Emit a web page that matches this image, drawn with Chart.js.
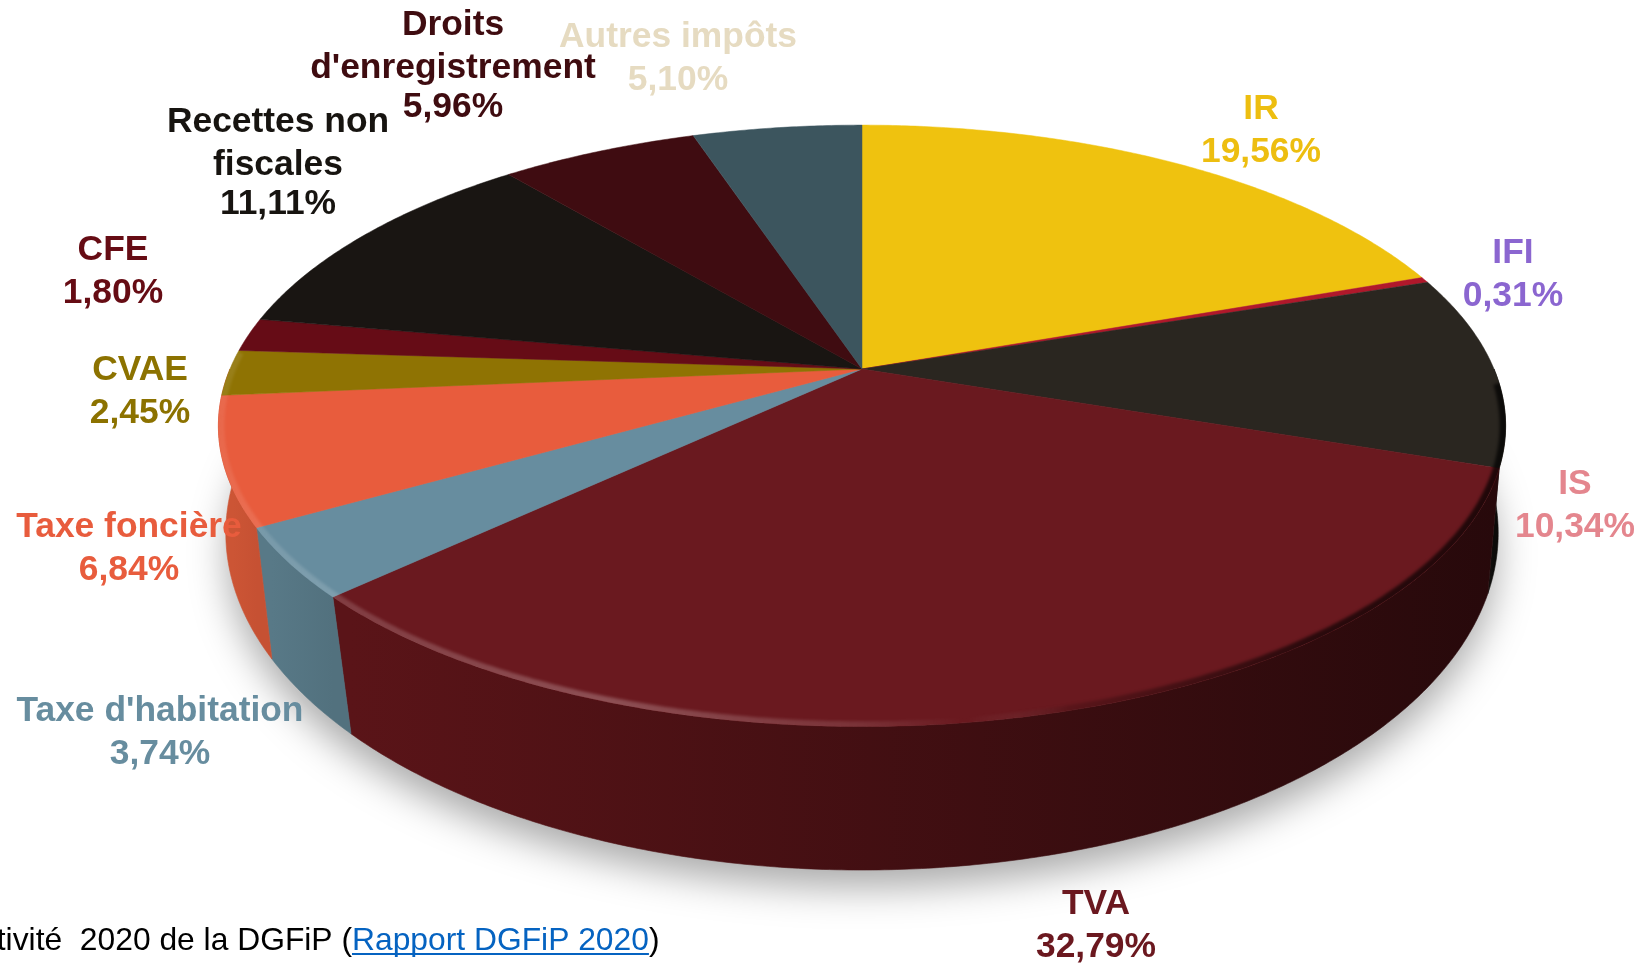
<!DOCTYPE html>
<html lang="fr">
<head>
<meta charset="utf-8">
<title>Recettes</title>
<script src="https://cdn.jsdelivr.net/npm/chart.js@4/dist/chart.umd.js"></script>
<style>
  html, body { margin: 0; background: #fff; overflow: hidden; }
  #pie { display: block; }
</style>
</head>
<body>
<canvas id="pie" width="1640" height="965"></canvas>
<script>
const categories = ['IR', 'IFI', 'IS', 'TVA', "Taxe d'habitation", 'Taxe foncière', 'CVAE', 'CFE',
    'Recettes non fiscales', "Droits d'enregistrement", 'Autres impôts'];
const shares = [19.56, 0.31, 10.34, 32.79, 3.74, 6.84, 2.45, 1.80, 11.11, 5.96, 5.10];

const sliceColors = ['#EFC20F', '#B0182B', '#2A2620', '#6A191F', '#678D9F', '#E85C3D', '#8F7303', '#660C16',
    '#191512', '#3F0C11', '#3C555E'];
const labelColors = ['#EDBE10', '#8B66D0', '#E4868E', '#6B181F', '#678D9F', '#E85C3D', '#8C7200', '#660C14',
    '#171410', '#3F0C10', '#E6DBC1'];
// left and right ends of the side wall shading
const wallColors = {
    2: ['#141210', '#0c0b09'],
    3: ['#5A1418', '#27090B'],
    4: ['#587987', '#52717E'],
    5: ['#CC5535', '#C65133']
};
const labelLines = [['IR'], ['IFI'], ['IS'], ['TVA'], ["Taxe d'habitation"], ['Taxe foncière'], ['CVAE'], ['CFE'],
    ['Recettes non', 'fiscales'], ['Droits', "d'enregistrement"], ['Autres impôts']];
// centre x and first line y for each label
const labelAnchors = [[1261, 109], [1513, 253], [1575, 484], [1096, 904], [160, 711], [129, 527], [140, 370],
    [113, 250], [278, 122], [453, 25], [678, 37]];
// y offset of each line below the first
const lineOffsets = [0, 43, 82];

// perspective planes of the disc: top face and underside
const CX = 862;
const topPlane = { a: 632, b: 290, p: -0.189, y0: 369 };
const basePlane = { a: 629, b: 329.4, p: -0.15, y0: 482.5 };

function project(plane, angle, r = 1) {
    const u = Math.cos(angle) * r;
    const v = Math.sin(angle) * r;
    const w = 1 + plane.p * v;
    return [CX + plane.a * u / w, plane.y0 + plane.b * v / w];
}

function traceArc(ctx, plane, from, to, r = 1, move = false) {
    const steps = Math.max(2, Math.ceil(Math.abs(to - from) * 120));
    for (let i = 0; i <= steps; i++) {
        const p = project(plane, from + (to - from) * i / steps, r);
        if (i === 0 && move) ctx.moveTo(p[0], p[1]);
        else ctx.lineTo(p[0], p[1]);
    }
}

// the ellipse itself sits off canvas, only its shadow lands on the page
function drawGroundShadow(ctx) {
    ctx.save();
    ctx.shadowColor = 'rgba(0,0,0,0.34)';
    ctx.shadowBlur = 38;
    ctx.shadowOffsetX = 3000;
    ctx.shadowOffsetY = 10;
    ctx.fillStyle = '#000';
    ctx.beginPath();
    ctx.ellipse(CX - 3000, 545, 634, 332, 0, 0, Math.PI * 2);
    ctx.fill();
    ctx.restore();
}

function drawWalls(ctx, arcs) {
    arcs.forEach((arc, i) => {
        if (!wallColors[i]) return;
        const from = Math.max(arc.startAngle, 0);
        // the foncière wall also covers the small turn up to the left extreme
        const to = i === 5 ? Math.PI : Math.min(arc.endAngle, Math.PI);
        if (to <= from) return;
        const left = project(basePlane, to)[0];
        const right = project(topPlane, from)[0];
        const grad = ctx.createLinearGradient(left, 0, right, 0);
        grad.addColorStop(0, wallColors[i][0]);
        grad.addColorStop(1, wallColors[i][1]);
        ctx.beginPath();
        traceArc(ctx, topPlane, from, to, 1, true);
        traceArc(ctx, basePlane, to, from);
        ctx.closePath();
        ctx.fillStyle = grad;
        ctx.strokeStyle = grad;
        ctx.lineWidth = 0.6;
        ctx.fill();
        ctx.stroke();
    });
}

function drawFaces(ctx, arcs) {
    arcs.forEach((arc, i) => {
        ctx.beginPath();
        ctx.moveTo(CX, topPlane.y0);
        traceArc(ctx, topPlane, arc.startAngle, arc.endAngle);
        ctx.closePath();
        ctx.fillStyle = sliceColors[i];
        ctx.strokeStyle = sliceColors[i];
        ctx.lineWidth = 0.5;
        ctx.fill();
        ctx.stroke();
    });
}

// soft bevel along the front rim, light on the left, dark on the right
function drawRim(ctx) {
    ctx.save();
    ctx.beginPath();
    traceArc(ctx, topPlane, 0, Math.PI * 2, 1, true);
    ctx.closePath();
    ctx.clip();
    const grad = ctx.createLinearGradient(218, 0, 1506, 0);
    grad.addColorStop(0, 'rgba(255,255,255,0.08)');
    grad.addColorStop(0.06, 'rgba(255,255,255,0.14)');
    grad.addColorStop(0.3, 'rgba(255,255,255,0.24)');
    grad.addColorStop(0.5, 'rgba(255,255,255,0.11)');
    grad.addColorStop(0.58, 'rgba(255,255,255,0)');
    grad.addColorStop(0.66, 'rgba(0,0,0,0.15)');
    grad.addColorStop(0.85, 'rgba(0,0,0,0.6)');
    grad.addColorStop(1, 'rgba(0,0,0,0.7)');
    ctx.filter = 'blur(1.4px)';
    ctx.strokeStyle = grad;
    ctx.lineWidth = 8;
    ctx.beginPath();
    traceArc(ctx, topPlane, 0.05, 3.2, 0.997, true);
    ctx.stroke();
    ctx.restore();
}

const pie3d = {
    id: 'pie3d',
    beforeDatasetsDraw(chart) {
        const ctx = chart.ctx;
        const arcs = chart.getDatasetMeta(0).data;
        drawGroundShadow(ctx);
        drawWalls(ctx, arcs);
        drawFaces(ctx, arcs);
        drawRim(ctx);
        return false;
    },
    afterDraw(chart) {
        const ctx = chart.ctx;
        ctx.save();
        ctx.textAlign = 'center';
        ctx.textBaseline = 'middle';
        ctx.font = 'bold 35.4px "Liberation Sans"';
        labelLines.forEach((lines, i) => {
            const [x, y] = labelAnchors[i];
            const text = lines.concat(shares[i].toFixed(2).replace('.', ',') + '%');
            ctx.fillStyle = labelColors[i];
            text.forEach((line, k) => ctx.fillText(line, x, y + lineOffsets[k]));
        });
        // source line, runs off the left edge
        ctx.font = '31.8px "Liberation Sans"';
        ctx.textBaseline = 'alphabetic';
        ctx.textAlign = 'right';
        ctx.fillStyle = '#000';
        ctx.fillText("activité  2020 de la DGFiP (", 352, 950);
        ctx.textAlign = 'left';
        ctx.fillStyle = '#0563C1';
        ctx.fillText('Rapport DGFiP 2020', 352, 950);
        const linkWidth = ctx.measureText('Rapport DGFiP 2020').width;
        ctx.fillRect(352, 953, linkWidth, 2);
        ctx.fillStyle = '#000';
        ctx.fillText(')', 352 + linkWidth, 950);
        ctx.restore();
    }
};

new Chart(document.getElementById('pie'), {
    type: 'pie',
    data: {
        labels: categories,
        datasets: [{ data: shares, backgroundColor: sliceColors, borderWidth: 0 }]
    },
    options: {
        responsive: false,
        animation: false,
        plugins: { legend: { display: false }, tooltip: { enabled: false } }
    },
    plugins: [pie3d]
});
</script>
</body>
</html>
